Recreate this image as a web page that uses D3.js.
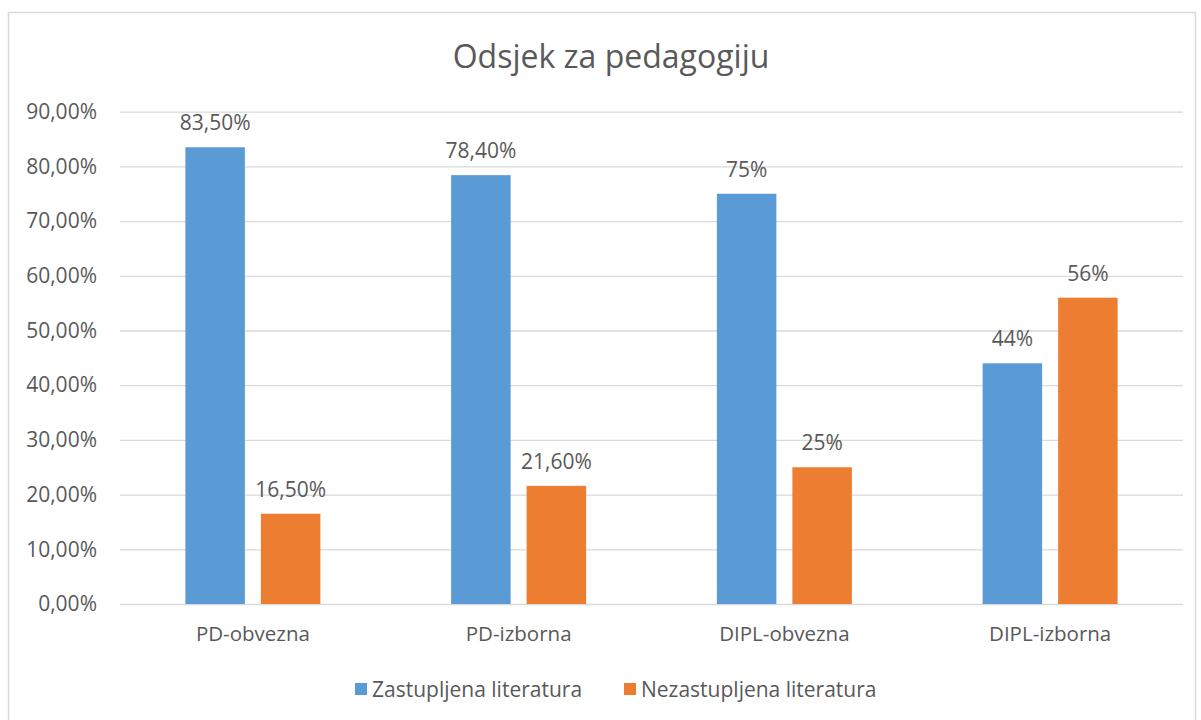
<!DOCTYPE html>
<html><head><meta charset="utf-8">
<script src="https://cdn.jsdelivr.net/npm/d3@7"></script>
<style>body{margin:0;background:#fff}text{font-family:"Open Sans","Noto Sans",sans-serif;fill:#595959}</style>
</head><body>
<svg id="c" width="1201" height="720"></svg>
<script>
const categories = ["PD-obvezna", "PD-izborna", "DIPL-obvezna", "DIPL-izborna"];
const seriesNames = ["Zastupljena literatura", "Nezastupljena literatura"];
const zastupljena = [0.835, 0.784, 0.75, 0.44];
const nezastupljena = [0.165, 0.216, 0.25, 0.56];
const zastupljenaLabels = ["83,50%", "78,40%", "75%", "44%"];
const nezastupljenaLabels = ["16,50%", "21,60%", "25%", "56%"];
const yTicks = [0, 0.1, 0.2, 0.3, 0.4, 0.5, 0.6, 0.7, 0.8, 0.9];
const yTickLabels = ["0,00%", "10,00%", "20,00%", "30,00%", "40,00%", "50,00%", "60,00%", "70,00%", "80,00%", "90,00%"];
const colors = ["#5B9BD5", "#ED7D31"];

const svg = d3.select("#c");
svg.append("rect").attr("x", 8.5).attr("y", 12.5).attr("width", 1187).attr("height", 720)
  .attr("fill", "#fff").attr("stroke", "#D9D9D9").attr("stroke-width", 1.5);

const mLeft = 120, mRight = 1183, mTop = 111.7, mBottom = 604;
const y = d3.scaleLinear().domain([0, 0.9]).range([mBottom, mTop]);
const x0 = d3.scaleBand().domain(categories).range([mLeft, mRight]).paddingInner(0.492).paddingOuter(0.246);
const x1 = d3.scaleBand().domain(seriesNames).range([0, x0.bandwidth()]).paddingInner(0.212).paddingOuter(0);

// grid
const yAxis = d3.axisLeft(y).tickValues(yTicks).tickSize(-(mRight - mLeft)).tickFormat((d, i) => yTickLabels[i]);
const gy = svg.append("g").attr("transform", `translate(${mLeft},0)`).call(yAxis);
gy.select(".domain").remove();
gy.selectAll(".tick line").attr("stroke", "#D9D9D9").attr("stroke-width", 1.3);
gy.selectAll(".tick text").attr("x", -23).attr("font-size", 21).style("fill", "#595959")
  .attr("font-family", "'Open Sans', sans-serif");

// x axis labels
const xAxis = d3.axisBottom(x0).tickSize(0).tickPadding(22);
const gx = svg.append("g").attr("transform", `translate(0,${mBottom})`).call(xAxis);
gx.select(".domain").remove();
gx.selectAll(".tick text").attr("font-size", 20.5).style("fill", "#595959")
  .attr("font-family", "'Open Sans', sans-serif");

const series = [
  {name: seriesNames[0], values: zastupljena, labels: zastupljenaLabels, color: colors[0]},
  {name: seriesNames[1], values: nezastupljena, labels: nezastupljenaLabels, color: colors[1]}
];

series.forEach(s => {
  const g = svg.append("g");
  g.selectAll("rect").data(categories).join("rect")
    .attr("x", c => x0(c) + x1(s.name))
    .attr("width", x1.bandwidth())
    .attr("y", (c, i) => y(s.values[i]))
    .attr("height", (c, i) => mBottom - y(s.values[i]))
    .attr("fill", s.color);
  g.selectAll("text").data(categories).join("text")
    .attr("x", c => x0(c) + x1(s.name) + x1.bandwidth() / 2)
    .attr("y", (c, i) => y(s.values[i]) - 17)
    .attr("text-anchor", "middle").attr("font-size", 21)
    .text((c, i) => s.labels[i]);
});

// title
svg.append("text").attr("x", 611).attr("y", 68).attr("text-anchor", "middle")
  .attr("font-size", 32).text("Odsjek za pedagogiju");

// legend
const legendPos = [355, 624];
series.forEach((s, i) => {
  svg.append("rect").attr("x", legendPos[i]).attr("y", 683).attr("width", 12).attr("height", 12).attr("fill", s.color);
  svg.append("text").attr("x", legendPos[i] + 17).attr("y", 697).attr("font-size", 21).text(s.name);
});
</script>
</body></html>
